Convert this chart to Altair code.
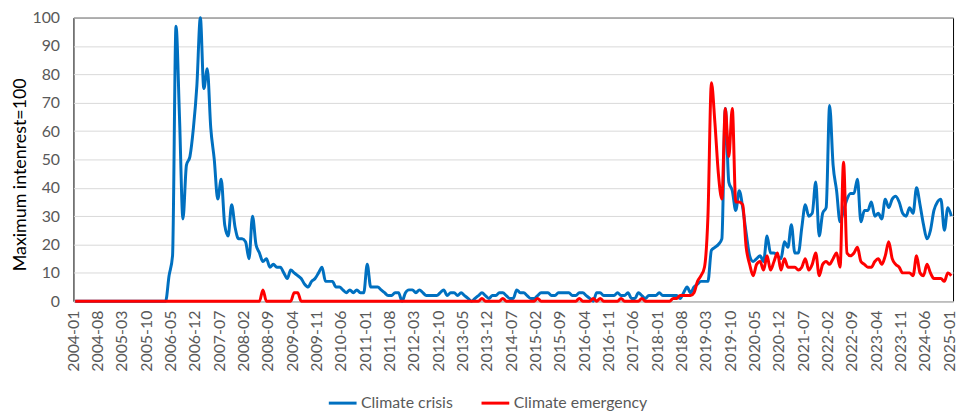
import altair as alt
import pandas as pd

# Categories: monthly, 2004-01 .. 2025-01
months = [f"{y}-{m:02d}" for y in range(2004, 2026) for m in range(1, 13)][:253]
tick_months = months[::7]

series_names = ["Climate crisis", "Climate emergency"]
series_colors = ["#0070C0", "#FF0000"]

crisis = (
    [0] * 12                                                  # 2004
    + [0] * 12                                                # 2005
    + [0, 0, 0, 9, 16, 97, 65, 29, 48, 51, 61, 76]            # 2006
    + [100, 75, 82, 61, 50, 36, 43, 27, 23, 34, 26, 22]       # 2007
    + [22, 21, 15, 30, 20, 17, 14, 15, 12, 13, 12, 12]        # 2008
    + [10, 8, 11, 10, 9, 8, 6, 5, 7, 8, 10, 12]               # 2009
    + [7, 7, 7, 5, 5, 4, 3, 4, 3, 4, 3, 3]                    # 2010
    + [13, 5, 5, 5, 4, 3, 2, 2, 3, 3, 0, 3]                   # 2011
    + [4, 4, 3, 4, 3, 2, 2, 2, 2, 3, 4, 2]                    # 2012
    + [3, 3, 2, 3, 2, 1, 0, 1, 2, 3, 2, 1]                    # 2013
    + [2, 2, 3, 3, 2, 1, 1, 4, 3, 3, 2, 1]                    # 2014
    + [1, 2, 3, 3, 3, 2, 2, 3, 3, 3, 3, 2]                    # 2015
    + [2, 3, 3, 2, 1, 0, 3, 3, 2, 2, 2, 2]                    # 2016
    + [3, 2, 2, 3, 1, 1, 3, 2, 1, 2, 2, 2]                    # 2017
    + [3, 2, 2, 2, 2, 2, 1, 3, 5, 3, 5, 6]                    # 2018
    + [7, 7, 7, 18, 19, 20, 22, 68, 42, 39, 32, 39]           # 2019
    + [33, 24, 16, 14, 15, 16, 14, 23, 17, 17, 16, 15]        # 2020
    + [21, 19, 27, 17, 17, 26, 34, 30, 31, 42, 23, 31]        # 2021
    + [33, 69, 48, 39, 28, 32, 36, 38, 38, 43, 28, 32]        # 2022
    + [32, 35, 30, 31, 29, 36, 33, 36, 37, 35, 31, 30]        # 2023
    + [33, 31, 40, 34, 27, 22, 25, 32, 35, 36, 25, 33]        # 2024
    + [30]                                                    # 2025-01
)

emergency = (
    [0] * 48                                                  # 2004-2007
    + [0, 0, 0, 0, 0, 0, 4, 0, 0, 0, 0, 0]                    # 2008
    + [0, 0, 0, 3, 3, 0, 0, 0, 0, 0, 0, 0]                    # 2009
    + [0] * 36                                                # 2010-2012
    + [0, 0, 0, 0, 0, 0, 0, 0, 0, 1, 0, 0]                    # 2013
    + [0, 0, 0, 1, 0, 0, 0, 0, 0, 0, 0, 0]                    # 2014
    + [0, 1, 0, 0, 0, 0, 0, 0, 0, 0, 0, 0]                    # 2015
    + [0, 1, 0, 0, 0, 1, 0, 1, 0, 0, 0, 0]                    # 2016
    + [0, 1, 0, 0, 0, 0, 0, 1, 0, 0, 0, 0]                    # 2017
    + [0, 0, 0, 0, 1, 1, 2, 2, 2, 2, 3, 7]                    # 2018
    + [9, 12, 30, 77, 63, 45, 36, 68, 51, 68, 35, 35]         # 2019
    + [34, 19, 13, 9, 13, 14, 11, 16, 11, 14, 17, 11]         # 2020
    + [15, 12, 12, 12, 11, 12, 15, 11, 13, 17, 9, 13]         # 2021
    + [14, 13, 15, 17, 12, 49, 17, 16, 17, 19, 14, 13]        # 2022
    + [12, 12, 14, 15, 13, 16, 21, 15, 13, 12, 10, 10]        # 2023
    + [10, 9, 16, 10, 9, 13, 10, 8, 8, 8, 7, 10]              # 2024
    + [9]                                                     # 2025-01
)

df = pd.DataFrame({
    "month": months + months,
    "value": crisis + emergency,
    "series": [series_names[0]] * len(months) + [series_names[1]] * len(months),
})

FONT = "Lato"
GREY = "#595959"

chart = alt.Chart(df).mark_line(strokeWidth=3, interpolate="monotone").encode(
    x=alt.X(
        "month:O",
        sort=months,
        scale=alt.Scale(type="point", padding=0.5),
        axis=alt.Axis(
            values=tick_months, labelAngle=-90, title=None, ticks=False,
            domainColor="#bfbfbf", domainWidth=1, grid=False,
            labelFont=FONT, labelFontSize=16, labelColor=GREY, labelPadding=9,
            labelOffset=-2,
        ),
    ),
    y=alt.Y(
        "value:Q",
        scale=alt.Scale(domain=[0, 100], nice=False),
        axis=alt.Axis(
            values=list(range(0, 101, 10)), ticks=False, domain=False,
            grid=True, gridColor="#d9d9d9", gridWidth=1,
            labelFont=FONT, labelFontSize=16, labelColor=GREY, labelPadding=14,
            title="Maximum intenrest=100", titleFont=FONT, titleFontSize=18,
            titleFontWeight="normal", titleColor="#000000", titleAngle=270,
            titleX=-62, titleY=158, titleAlign="center", titleBaseline="top",
        ),
    ),
    color=alt.Color(
        "series:N",
        scale=alt.Scale(domain=series_names, range=series_colors),
        legend=alt.Legend(
            title=None, orient="none", legendX=256, legendY=373,
            direction="horizontal", symbolType="stroke", symbolSize=784,
            symbolStrokeWidth=3, labelFont=FONT, labelFontSize=16,
            labelColor=GREY, labelOffset=3, columnPadding=22,
        ),
    ),
).properties(
    width=887,
    height=286,
    autosize=alt.AutoSizeParams(type="none"),
    padding={"left": 66, "top": 8, "right": 6, "bottom": 109},
).configure_view(
    stroke="#000000", strokeWidth=1
)

chart.save("out.html", embed_options={"renderer": "svg", "actions": False})
